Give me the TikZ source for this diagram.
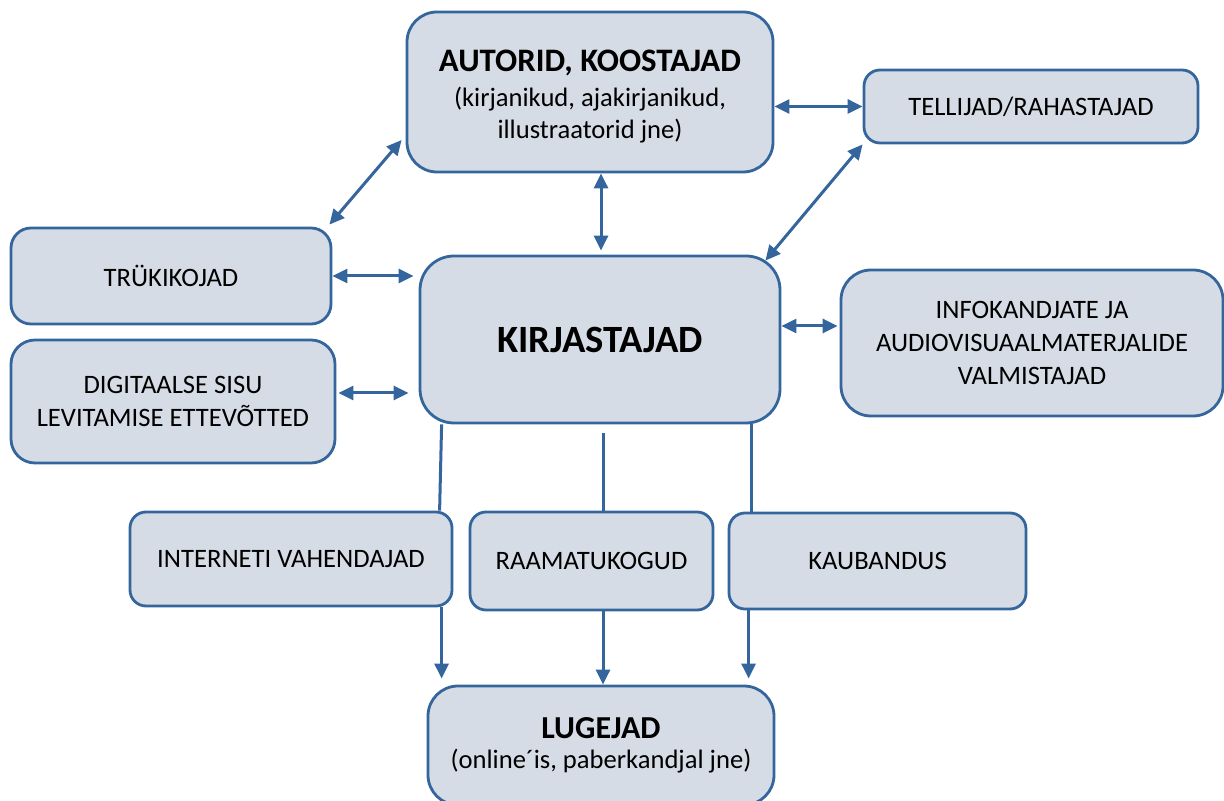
\documentclass[tikz,border=0pt]{standalone}
\usepackage{fontspec}
\setmainfont{Carlito}
\usetikzlibrary{arrows.meta}
\definecolor{rand}{RGB}{52,101,156}
\definecolor{fuell}{RGB}{214,220,229}

\begin{document}
\begin{tikzpicture}[x=0.5pt,y=-0.5pt,
  kast/.style={draw=rand,fill=fuell,line width=1.4pt,align=center,
    font=\fontsize{13.3}{16.3}\selectfont},
  nool/.style={draw=rand,line width=1.5pt},
  >={Triangle[length=7.5pt,width=7pt]}]
\def\tiitel#1#2{{\fontsize{#1}{#1}\selectfont\bfseries #2}}
\def\nool#1#2{\draw[nool,<->] (#1) -- (#2);}
\useasboundingbox (0,0) rectangle (1224,801);

\node[kast,minimum width=183pt,minimum height=80pt,rounded corners=15pt] at (590,92) (autorid)
  {\mbox{}\\[-1pt]\tiitel{16.4}{AUTORID, KOOSTAJAD}\\[1pt](kirjanikud, ajakirjanikud,\\illustraatorid jne)};
\node[kast,minimum width=167pt,minimum height=36.5pt,rounded corners=8pt] at (1031,106.5) (tellijad) {TELLIJAD/RAHASTAJAD};
\node[kast,minimum width=160pt,minimum height=48pt,rounded corners=10pt] at (171,276) (trukk) {TRÜKIKOJAD};
\node[kast,minimum width=162pt,minimum height=61.5pt,rounded corners=12pt] at (173,401.5) (digi)
  {DIGITAALSE SISU\\LEVITAMISE ETTEVÕTTED};
\node[kast,minimum width=180pt,minimum height=83.5pt,rounded corners=17pt] at (600,339.5) (kirj)
  {\tiitel{19.3}{KIRJASTAJAD}};
\node[kast,minimum width=191pt,minimum height=73pt,rounded corners=15pt] at (1032,343) (info)
  {INFOKANDJATE JA\\AUDIOVISUAALMATERJALIDE\\VALMISTAJAD};
\node[kast,minimum width=161pt,minimum height=47pt,rounded corners=8pt] at (291,559) (internet) {INTERNETI VAHENDAJAD};
\node[kast,minimum width=121.5pt,minimum height=49pt,rounded corners=8pt] at (591.5,561) (raamat) {RAAMATUKOGUD};
\node[kast,minimum width=148.5pt,minimum height=48pt,rounded corners=8pt] at (877.5,561) (kaub) {KAUBANDUS};
\node[kast,minimum width=173pt,minimum height=59.5pt,rounded corners=15pt] at (601,745.5) (lugejad)
  {\tiitel{16}{LUGEJAD}\\[-1.5pt](online´is, paberkandjal jne)};

% kahesuunalised nooled
\coordinate (a1) at ([xshift=-2pt,yshift=-24pt]autorid.west);
\coordinate (t1) at ([xshift=-1.5pt,yshift=1pt]trukk.north east);
\nool{a1}{t1}
\nool{autorid.east |- tellijad.west}{tellijad.west}
\coordinate (k0) at ([xshift=5.5pt]autorid.south);
\draw[nool,<->] (k0) -- ([yshift=2pt]k0 |- kirj.north);
\coordinate (k2) at ([xshift=-8pt,yshift=-3pt]kirj.north east);
\nool{tellijad.south west}{k2}
\draw[nool,<->] (trukk.east) -- (trukk.east -| kirj.west) [shorten >=2.5pt];
\coordinate (d1) at ([xshift=1pt,yshift=4.25pt]digi.east);
\draw[nool,<->,shorten >=5pt] (d1) -- (d1 -| kirj.west);
\coordinate (i1) at ([yshift=6.75pt]kirj.east);
\draw[nool,<->,shorten >=1pt] (i1) -- (i1 -| info.west);

% jaotus
\coordinate (v1) at ([xshift=11.5pt]kirj.south west);
\coordinate (v2) at ([xshift=5.75pt]raamat.north);
\coordinate (v3) at ([xshift=12pt]kaub.north west);
\coordinate (v4) at ([xshift=10.5pt]kaub.south west);
\draw[nool] (v1) -- ([xshift=-1pt]v1 |- internet.north);
\draw[nool,shorten <=4.5pt] (v2 |- kirj.south) -- (v2);
\draw[nool] (v3 |- kirj.south) -- (v3);
\draw[nool,->,shorten >=3pt] (v1 |- internet.south) -- (v1 |- lugejad.north);
\draw[nool,->] (v2 |- raamat.south) -- (v2 |- lugejad.north);
\draw[nool,->,shorten >=3pt] (v4) -- (v4 |- lugejad.north);
\end{tikzpicture}
\end{document}
